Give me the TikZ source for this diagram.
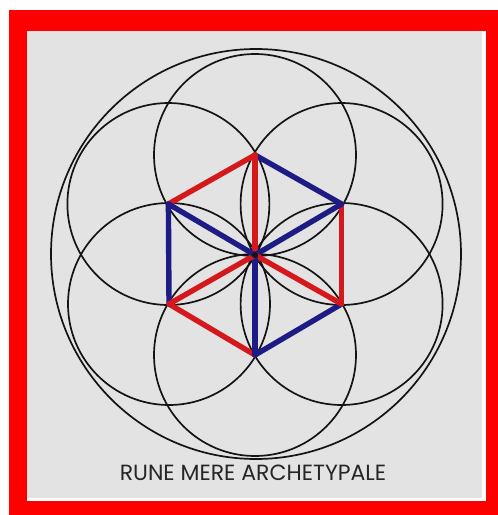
\documentclass[tikz,border=0pt]{standalone}
\usepackage{fontspec}
\newfontfamily\capfont{Poppins}
\definecolor{frame}{RGB}{255,0,0}
\definecolor{paper}{RGB}{227,227,227}
\definecolor{runered}{RGB}{212,24,28}
\definecolor{runeblue}{RGB}{28,28,132}
\definecolor{ink}{RGB}{20,20,20}
\definecolor{textgray}{RGB}{38,38,38}
\tikzset{
  circ/.style={draw=ink, line width=1.7pt},
  redline/.style={draw=runered, line width=5.4pt, line cap=round},
  blueline/.style={draw=runeblue, line width=5.4pt, line cap=round},
}
\begin{document}
\begin{tikzpicture}[x=1pt,y=-1pt]
\useasboundingbox (0,0) rectangle (498,515);
\fill[frame] (9,10) rectangle (498,515);
\fill[white] (27,31) rectangle (486,501);
\fill[paper] (27,31) rectangle (482,498);
% centre and hexagon vertices
\coordinate (O) at (255,255);
\coordinate (T) at (255,155);
\coordinate (UR) at (341.6,204);
\coordinate (LR) at (341.6,304);
\coordinate (B) at (255,355);
\coordinate (LL) at (169,304);
\coordinate (UL) at (168.4,204);
\coordinate (BC) at (256,254);
% circles
\draw[circ] (BC) circle[radius=205];
\foreach \p in {T,UR,LR,B,LL,UL}{\draw[circ] (\p) circle[radius=101];}
% coloured lines
\draw[redline] (UL) -- (T);
\draw[blueline] (T) -- (UR);
\draw[redline] (UR) -- (LR);
\draw[blueline] (LR) -- (B);
\draw[redline] (B) -- (LL);
\draw[blueline] (LL) -- (UL);
\draw[redline] (O) -- (T);
\draw[blueline] (O) -- (UR);
\draw[redline] (O) -- (LR);
\draw[blueline] (O) -- (B);
\draw[redline] (O) -- (LL);
\draw[blueline] (O) -- (UL);
\fill[ink] (O) circle[radius=3];
\node[text=textgray, font=\capfont\fontsize{22}{22}\selectfont, inner sep=0pt] (cap) at (253,473) {RUNE MERE ARCHETYPALE};
\end{tikzpicture}
\end{document}
